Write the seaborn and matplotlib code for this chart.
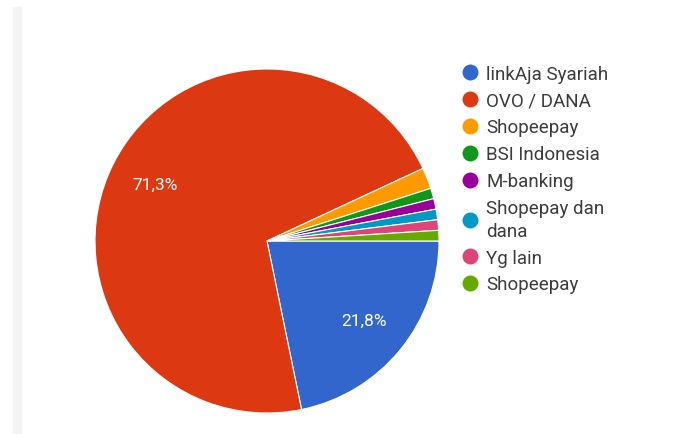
import matplotlib
matplotlib.use("Agg")
import matplotlib.pyplot as plt
import seaborn as sns
from matplotlib.lines import Line2D

labels = ["linkAja Syariah", "OVO / DANA", "Shopeepay", "BSI Indonesia", "M-banking",
          "Shopepay dan\ndana", "Yg lain", "Shopeepay"]
counts = [22, 72, 2, 1, 1, 1, 1, 1]
colors = ["#3366cc", "#dc3912", "#ff9900", "#109618", "#990099", "#0099c6", "#dd4477", "#66aa00"]

sns.set_style("white")
plt.rcParams['font.family'] = ['Roboto', 'DejaVu Sans']

fig = plt.figure(figsize=(6.95, 4.35), dpi=100)
fig.patch.set_facecolor("white")

# faint card edge on the left
fig.patches.append(plt.Rectangle((13 / 695, 0), 8 / 695, 1 - 8 / 435, transform=fig.transFigure,
                                 color="#f4f4f4", zorder=0))

r = 172
cx, cy = 267, 242
ax = fig.add_axes([(cx - r) / 695, (435 - cy - r) / 435, 2 * r / 695, 2 * r / 435])


def fmt(p):
    if p < 5:
        return ""
    return f"{p:.1f}%".replace(".", ",")


wedges, texts, autotexts = ax.pie(counts, colors=colors, startangle=0, counterclock=False,
                                  autopct=fmt, pctdistance=0.73,
                                  wedgeprops=dict(edgecolor="white", linewidth=0.8),
                                  textprops=dict(color="white", fontsize=12.5))
ax.set_xlim(-1, 1)
ax.set_ylim(-1, 1)
ax.set_aspect("equal")

handles = [Line2D([0], [0], marker="o", color="w", markerfacecolor=c, markersize=12.5, linewidth=0)
           for c in colors]
leg = fig.legend(handles, labels, loc="upper left", bbox_to_anchor=(446 / 695, 1 - 49 / 435),
                 frameon=False, fontsize=13.5, labelcolor="#3c3c3c", handlelength=0.8,
                 handletextpad=0.45, labelspacing=0.47)
for t in leg.get_texts():
    t.set_linespacing(1.35)

fig.savefig("out.png", dpi=100, facecolor="white")
